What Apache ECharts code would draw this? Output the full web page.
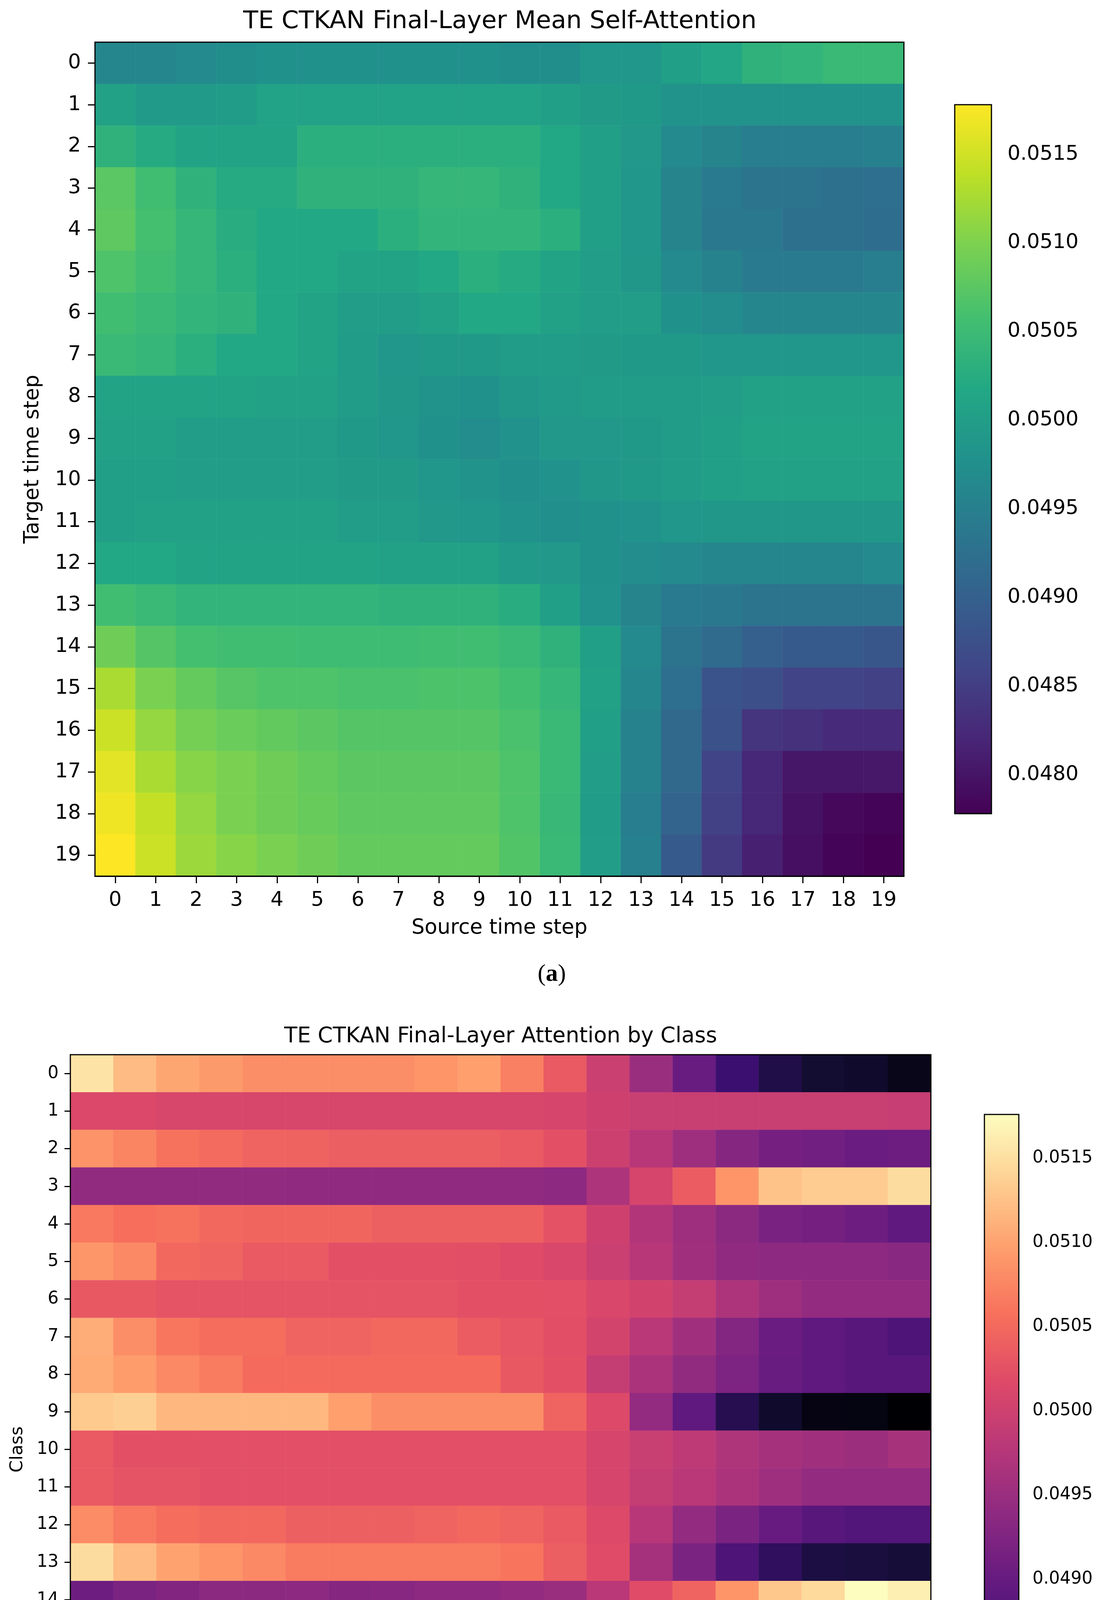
<!DOCTYPE html>
<html>
<head>
<meta charset="utf-8">
<script src="https://cdn.jsdelivr.net/npm/echarts@6/dist/echarts.min.js"></script>
<style>html,body{margin:0;padding:0;background:#fff;}#chart{width:2825px;height:5050px;}</style>
</head>
<body>
<div id="chart"></div>
<script>
// ---------- data ----------
const sourceSteps = ['0','1','2','3','4','5','6','7','8','9','10','11','12','13','14','15','16','17','18','19'];
const targetSteps = ['0','1','2','3','4','5','6','7','8','9','10','11','12','13','14','15','16','17','18','19'];
const classLabels = ['0','1','2','3','4','5','6','7','8','9','10','11','12','13','14','15','16','17','18','19','20'];
const colorbarTicks = [0.0480,0.0485,0.0490,0.0495,0.0500,0.0505,0.0510,0.0515];
const rangeSelf = [0.04778, 0.05178];
const rangeClass = [0.04778, 0.05176];

// rows = target time step, columns = source time step
const selfAttention = [
[0.04962,0.04962,0.04966,0.04974,0.04978,0.04978,0.04978,0.04978,0.04978,0.04978,0.04974,0.04974,0.04986,0.04986,0.05002,0.05014,0.05034,0.05038,0.05046,0.05046],
[0.05006,0.04994,0.04994,0.04998,0.05008,0.05008,0.05008,0.05008,0.05008,0.05008,0.05008,0.05002,0.04996,0.04992,0.04982,0.04982,0.04982,0.04982,0.04982,0.04982],
[0.05034,0.05022,0.05010,0.05010,0.05010,0.05030,0.05030,0.05030,0.05030,0.05030,0.05030,0.05018,0.05002,0.04990,0.04966,0.04958,0.04946,0.04946,0.04946,0.04950],
[0.05074,0.05054,0.05034,0.05022,0.05022,0.05034,0.05034,0.05034,0.05042,0.05042,0.05034,0.05018,0.05002,0.04986,0.04958,0.04942,0.04930,0.04930,0.04926,0.04922],
[0.05078,0.05058,0.05042,0.05026,0.05018,0.05018,0.05018,0.05030,0.05038,0.05038,0.05038,0.05030,0.05002,0.04986,0.04958,0.04938,0.04938,0.04926,0.04926,0.04920],
[0.05066,0.05054,0.05042,0.05030,0.05018,0.05018,0.05010,0.05010,0.05018,0.05030,0.05022,0.05010,0.05000,0.04988,0.04966,0.04954,0.04942,0.04942,0.04942,0.04946],
[0.05054,0.05046,0.05038,0.05034,0.05018,0.05010,0.05000,0.05000,0.05006,0.05018,0.05018,0.05006,0.05000,0.05000,0.04978,0.04970,0.04962,0.04962,0.04962,0.04962],
[0.05046,0.05042,0.05030,0.05018,0.05018,0.05010,0.04998,0.04986,0.04992,0.04992,0.04998,0.04998,0.04996,0.04992,0.04992,0.04986,0.04986,0.04986,0.04986,0.04986],
[0.05010,0.05010,0.05010,0.05010,0.05006,0.05006,0.04998,0.04988,0.04982,0.04978,0.04988,0.04994,0.04998,0.04998,0.04998,0.05000,0.05006,0.05006,0.05006,0.05006],
[0.05006,0.05006,0.05000,0.05000,0.05000,0.05000,0.04992,0.04986,0.04978,0.04972,0.04980,0.04990,0.04990,0.04992,0.04998,0.05002,0.05010,0.05010,0.05010,0.05010],
[0.05002,0.05002,0.05000,0.05000,0.05000,0.05000,0.04996,0.04996,0.04986,0.04982,0.04976,0.04980,0.04988,0.04992,0.04998,0.05002,0.05006,0.05006,0.05006,0.05006],
[0.05002,0.05006,0.05006,0.05006,0.05006,0.05006,0.05000,0.05000,0.04990,0.04986,0.04980,0.04976,0.04978,0.04980,0.04986,0.04988,0.04988,0.04988,0.04988,0.04988],
[0.05018,0.05018,0.05010,0.05010,0.05010,0.05010,0.05010,0.05006,0.05006,0.05006,0.04994,0.04990,0.04978,0.04970,0.04966,0.04962,0.04962,0.04962,0.04962,0.04966],
[0.05054,0.05046,0.05038,0.05038,0.05038,0.05038,0.05038,0.05034,0.05034,0.05034,0.05026,0.05002,0.04980,0.04958,0.04942,0.04938,0.04930,0.04930,0.04930,0.04932],
[0.05090,0.05070,0.05058,0.05054,0.05054,0.05052,0.05052,0.05052,0.05054,0.05054,0.05046,0.05034,0.05002,0.04966,0.04930,0.04918,0.04898,0.04890,0.04890,0.04884],
[0.05126,0.05098,0.05082,0.05072,0.05066,0.05066,0.05062,0.05062,0.05064,0.05064,0.05056,0.05042,0.05006,0.04962,0.04922,0.04882,0.04874,0.04858,0.04858,0.04854],
[0.05146,0.05114,0.05094,0.05086,0.05080,0.05076,0.05070,0.05070,0.05070,0.05070,0.05062,0.05046,0.05002,0.04954,0.04914,0.04878,0.04838,0.04834,0.04826,0.04826],
[0.05162,0.05126,0.05106,0.05098,0.05090,0.05082,0.05076,0.05076,0.05076,0.05076,0.05066,0.05046,0.05000,0.04954,0.04914,0.04858,0.04822,0.04802,0.04802,0.04804],
[0.05170,0.05142,0.05114,0.05098,0.05090,0.05084,0.05078,0.05078,0.05078,0.05078,0.05066,0.05044,0.04998,0.04946,0.04906,0.04854,0.04822,0.04798,0.04786,0.04782],
[0.05178,0.05146,0.05118,0.05106,0.05098,0.05090,0.05082,0.05082,0.05082,0.05082,0.05068,0.05046,0.05000,0.04950,0.04890,0.04846,0.04814,0.04794,0.04782,0.04778]
];

// rows = class, columns = source time step
const classAttention = [
[0.05154,0.05120,0.05102,0.05092,0.05082,0.05082,0.05082,0.05082,0.05088,0.05096,0.05070,0.05034,0.04996,0.04950,0.04902,0.04858,0.04830,0.04814,0.04810,0.04794],
[0.05014,0.05014,0.05010,0.05010,0.05010,0.05010,0.05010,0.05010,0.05010,0.05010,0.05010,0.05008,0.05000,0.04994,0.04994,0.04994,0.04994,0.04994,0.04994,0.04992],
[0.05086,0.05074,0.05058,0.05050,0.05044,0.05042,0.05038,0.05038,0.05038,0.05038,0.05034,0.05024,0.04998,0.04978,0.04954,0.04930,0.04914,0.04910,0.04904,0.04906],
[0.04942,0.04942,0.04942,0.04942,0.04942,0.04940,0.04940,0.04940,0.04940,0.04940,0.04940,0.04938,0.04968,0.05008,0.05036,0.05088,0.05126,0.05134,0.05134,0.05148],
[0.05064,0.05056,0.05058,0.05048,0.05046,0.05046,0.05046,0.05040,0.05040,0.05040,0.05040,0.05026,0.05000,0.04972,0.04954,0.04936,0.04918,0.04914,0.04906,0.04894],
[0.05090,0.05078,0.05048,0.05044,0.05034,0.05034,0.05024,0.05024,0.05024,0.05022,0.05018,0.05012,0.04996,0.04978,0.04956,0.04940,0.04938,0.04938,0.04938,0.04934],
[0.05032,0.05032,0.05028,0.05028,0.05028,0.05028,0.05028,0.05028,0.05028,0.05024,0.05024,0.05023,0.05012,0.05004,0.04990,0.04968,0.04954,0.04944,0.04944,0.04944],
[0.05108,0.05082,0.05062,0.05054,0.05054,0.05044,0.05044,0.05048,0.05048,0.05036,0.05030,0.05022,0.05006,0.04980,0.04956,0.04928,0.04904,0.04894,0.04886,0.04876],
[0.05106,0.05094,0.05078,0.05066,0.05052,0.05052,0.05052,0.05052,0.05052,0.05052,0.05032,0.05024,0.04990,0.04966,0.04942,0.04922,0.04902,0.04894,0.04886,0.04886],
[0.05132,0.05136,0.05116,0.05116,0.05116,0.05116,0.05096,0.05082,0.05082,0.05082,0.05082,0.05044,0.05016,0.04944,0.04894,0.04836,0.04810,0.04790,0.04788,0.04778],
[0.05034,0.05024,0.05024,0.05023,0.05023,0.05023,0.05023,0.05023,0.05023,0.05023,0.05023,0.05023,0.05008,0.04994,0.04984,0.04970,0.04960,0.04956,0.04952,0.04962],
[0.05034,0.05028,0.05028,0.05023,0.05023,0.05023,0.05023,0.05023,0.05023,0.05023,0.05023,0.05023,0.05008,0.04990,0.04980,0.04966,0.04954,0.04944,0.04944,0.04944],
[0.05080,0.05064,0.05054,0.05048,0.05048,0.05040,0.05040,0.05040,0.05044,0.05048,0.05044,0.05034,0.05016,0.04978,0.04944,0.04920,0.04900,0.04886,0.04880,0.04880],
[0.05148,0.05120,0.05100,0.05088,0.05078,0.05066,0.05066,0.05066,0.05066,0.05066,0.05060,0.05038,0.05020,0.04960,0.04920,0.04876,0.04846,0.04826,0.04824,0.04820],
[0.04906,0.04920,0.04926,0.04936,0.04936,0.04938,0.04930,0.04932,0.04938,0.04938,0.04944,0.04950,0.04980,0.05020,0.05044,0.05088,0.05130,0.05146,0.05176,0.05164],
[0.05142,0.05116,0.05096,0.05080,0.05064,0.05056,0.05044,0.05044,0.05044,0.05044,0.05040,0.05032,0.04992,0.04956,0.04906,0.04890,0.04886,0.04886,0.04886,0.04886],
[0.05154,0.05114,0.05068,0.05060,0.05044,0.05040,0.05036,0.05028,0.05028,0.05030,0.05022,0.05024,0.04990,0.04954,0.04930,0.04910,0.04910,0.04910,0.04910,0.04898],
[0.04964,0.04958,0.04954,0.04954,0.04954,0.04960,0.04960,0.04960,0.04962,0.04966,0.04962,0.04962,0.04980,0.05020,0.05028,0.05052,0.05076,0.05094,0.05096,0.05090],
[0.05042,0.05032,0.05026,0.05026,0.05026,0.05026,0.05026,0.05026,0.05026,0.05026,0.05026,0.05026,0.05004,0.04994,0.04978,0.04966,0.04956,0.04946,0.04946,0.04946],
[0.05066,0.05060,0.05060,0.05052,0.05042,0.05042,0.05042,0.05042,0.05042,0.05042,0.05042,0.05032,0.05016,0.04988,0.04956,0.04934,0.04914,0.04902,0.04902,0.04902],
[0.05134,0.05118,0.05098,0.05088,0.05078,0.05078,0.05066,0.05066,0.05066,0.05066,0.05060,0.05034,0.04998,0.04958,0.04924,0.04878,0.04854,0.04840,0.04832,0.04836]
];

const viridis = ['#440154','#482475','#414487','#355f8d','#2a788e','#21918c','#22a884','#44bf70','#7ad151','#bddf26','#fde725'];
const magma = ['#000004','#140e36','#3b0f70','#641a80','#8c2981','#b73779','#de4968','#f7705c','#fe9f6d','#fecf92','#fcfdbf'];

// ---------- build ----------
function toCells(matrix) {
  const out = [];
  matrix.forEach((row, r) => row.forEach((v, c) => out.push([c, r, v])));
  return out;
}
function gradientStops(colors) {
  const n = colors.length - 1;
  return colors.slice().reverse().map((c, i) => ({ offset: i / n, color: c }));
}

const FONT = 'DejaVu Sans';
const A = { left: 243, top: 108, width: 2070, height: 2135 };
const B = { left: 180, top: 2700, width: 2202, height: 2021 };
const CA = { left: 2443, top: 268, width: 94, height: 1815 };
const CB = { left: 2519, top: 2853, width: 88, height: 1715 };

function cbAxisPos(cb, range) {
  const lo = colorbarTicks[0], hi = colorbarTicks[colorbarTicks.length - 1];
  const span = range[1] - range[0];
  const yHi = cb.top + (range[1] - hi) / span * cb.height;
  const yLo = cb.top + (range[1] - lo) / span * cb.height;
  return { left: cb.left, top: yHi, width: cb.width, height: yLo - yHi };
}
const cbA = cbAxisPos(CA, rangeSelf);
const cbB = cbAxisPos(CB, rangeClass);

function catAxis(gridIndex, data, fs, tickLen, isY, name, nameGap) {
  return {
    type: 'category', gridIndex, data, inverse: !!isY,
    name, nameLocation: 'middle', nameGap,
    nameTextStyle: { fontFamily: FONT, fontSize: fs + 1, color: '#000' },
    axisLine: { show: true, lineStyle: { color: '#000', width: 3 } },
    axisTick: { show: true, alignWithLabel: true, length: tickLen, lineStyle: { color: '#000', width: 3 } },
    axisLabel: { interval: 0, fontFamily: FONT, fontSize: fs, color: '#000', margin: tickLen * 2 },
    splitLine: { show: false }, splitArea: { show: false }
  };
}
function cbYAxis(gridIndex, fs, tickLen, margin) {
  return {
    type: 'value', gridIndex, position: 'right',
    min: colorbarTicks[0], max: colorbarTicks[colorbarTicks.length - 1], interval: 0.0005,
    axisLine: { show: false },
    axisTick: { show: true, length: tickLen, lineStyle: { color: '#000', width: 3 } },
    axisLabel: { fontFamily: FONT, fontSize: fs, color: '#000', margin, formatter: v => v.toFixed(4) },
    splitLine: { show: false }
  };
}

const chart = echarts.init(document.getElementById('chart'), null, { renderer: 'canvas', width: 2825, height: 5050 });

const option = {
  backgroundColor: '#ffffff',
  animation: false,
  grid: [
    Object.assign({ outerBoundsMode: 'none', containLabel: false }, A),
    Object.assign({ outerBoundsMode: 'none', containLabel: false }, B),
    Object.assign({ outerBoundsMode: 'none', containLabel: false }, cbA),
    Object.assign({ outerBoundsMode: 'none', containLabel: false }, cbB)
  ],
  xAxis: [
    catAxis(0, sourceSteps, 52, 18, false, 'Source time step', 107),
    catAxis(1, sourceSteps, 44, 15, false, 'Source time step', 91),
    { type: 'value', gridIndex: 2, show: false, min: 0, max: 1 },
    { type: 'value', gridIndex: 3, show: false, min: 0, max: 1 }
  ],
  yAxis: [
    catAxis(0, targetSteps, 52, 18, true, 'Target time step', 132),
    catAxis(1, classLabels, 44, 15, true, 'Class', 112),
    cbYAxis(2, 52, 18, 41),
    cbYAxis(3, 44, 15, 35)
  ],
  visualMap: [
    { show: false, type: 'continuous', seriesIndex: 0, min: rangeSelf[0], max: rangeSelf[1], inRange: { color: viridis } },
    { show: false, type: 'continuous', seriesIndex: 1, min: rangeClass[0], max: rangeClass[1], inRange: { color: magma } }
  ],
  series: [
    { type: 'heatmap', xAxisIndex: 0, yAxisIndex: 0, data: toCells(selfAttention), emphasis: { disabled: true }, itemStyle: { borderWidth: 0 }, progressive: 0 },
    { type: 'heatmap', xAxisIndex: 1, yAxisIndex: 1, data: toCells(classAttention), emphasis: { disabled: true }, itemStyle: { borderWidth: 0 }, progressive: 0 }
  ],
  graphic: [
    { type: 'rect', z: 100, silent: true, shape: { x: A.left, y: A.top, width: A.width, height: A.height }, style: { fill: 'none', stroke: '#000', lineWidth: 3 } },
    { type: 'rect', z: 100, silent: true, shape: { x: B.left, y: B.top, width: B.width, height: B.height }, style: { fill: 'none', stroke: '#000', lineWidth: 3 } },
    { type: 'rect', z: 100, silent: true, shape: { x: CA.left, y: CA.top, width: CA.width, height: CA.height },
      style: { fill: new echarts.graphic.LinearGradient(0, 0, 0, 1, gradientStops(viridis)), stroke: '#000', lineWidth: 3 } },
    { type: 'rect', z: 100, silent: true, shape: { x: CB.left, y: CB.top, width: CB.width, height: CB.height },
      style: { fill: new echarts.graphic.LinearGradient(0, 0, 0, 1, gradientStops(magma)), stroke: '#000', lineWidth: 3 } },
    { type: 'text', z: 100, x: 1279, y: 56, style: { text: 'TE CTKAN Final-Layer Mean Self-Attention', fontFamily: FONT, fontSize: 63, fill: '#000', align: 'center', verticalAlign: 'middle' } },
    { type: 'text', z: 100, x: 1281, y: 2654, style: { text: 'TE CTKAN Final-Layer Attention by Class', fontFamily: FONT, fontSize: 55, fill: '#000', align: 'center', verticalAlign: 'middle' } },
    { type: 'text', z: 100, x: 1412, y: 2495, style: { text: '{n|(}{b|a}{n|)}', align: 'center', verticalAlign: 'middle',
      rich: { n: { fontFamily: 'Liberation Serif', fontSize: 62, fill: '#000' }, b: { fontFamily: 'Liberation Serif', fontSize: 62, fontWeight: 'bold', fill: '#000' } } } },
    { type: 'text', z: 100, x: 1412, y: 4983, style: { text: '{n|(}{b|b}{n|)}', align: 'center', verticalAlign: 'middle',
      rich: { n: { fontFamily: 'Liberation Serif', fontSize: 62, fill: '#000' }, b: { fontFamily: 'Liberation Serif', fontSize: 62, fontWeight: 'bold', fill: '#000' } } } }
  ]
};
chart.setOption(option);
</script>
</body>
</html>
